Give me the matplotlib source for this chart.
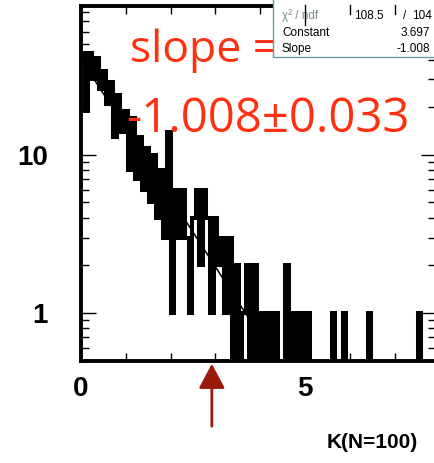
import numpy as np
import matplotlib
matplotlib.use("Agg")
import matplotlib.pyplot as plt
from matplotlib.ticker import MultipleLocator, LogLocator, NullFormatter
from matplotlib.patches import Rectangle

# histogram of K (N=100), bin width 0.08
bin_width = 0.08
counts = [44, 19, 44, 30, 41, 26, 34, 21, 29, 13,
          24, 14, 19, 8, 17, 7, 13, 6, 11, 5,
          10, 4, 8, 3, 14, 1, 6, 3, 6, 3,
          1, 4, 6, 2, 6, 4, 1, 4, 2, 3,
          1, 3, 0, 2, 0, 1, 2, 0, 2, 0,
          1, 0, 1, 0, 1, 0, 0, 2, 0, 1,
          0, 1, 0, 1, 0, 0, 0, 0, 0, 0,
          1, 0, 0, 1, 0, 0, 0, 0, 0, 0,
          1, 0, 0, 0, 0, 0, 0, 0, 0, 0,
          0, 0, 0, 0, 1, 0, 0, 0, 0]

# expo fit parameters from the stats box
fit_const = 3.697
fit_slope = -1.008
chi2, ndf = 108.5, 104
slope_err = 0.033
arrow_k = 2.92

fig = plt.figure(figsize=(4.34, 4.63), dpi=100)
ax = fig.add_axes([81/434, 1 - 361/463, 355/434, 355.5/463])

edges = np.arange(len(counts) + 1) * bin_width
vals = np.array(counts, dtype=float)
vals = np.where(vals > 0, vals, 1e-3)
ax.step(edges, np.append(vals, vals[-1]), where='post', color='black',
        lw=2.9, solid_joinstyle='miter', solid_capstyle='butt', zorder=3)

kf = np.linspace(0, 8, 200)
ax.plot(kf, np.exp(fit_const + fit_slope * kf), color='black', lw=1.1, zorder=4)

ax.set_yscale('log')
ax.set_xlim(0, 355 / 44.8)
ax.set_ylim(0.497, 88)

ax.xaxis.set_major_locator(MultipleLocator(5))
ax.xaxis.set_minor_locator(MultipleLocator(1))
ax.yaxis.set_major_locator(LogLocator(base=10))
ax.yaxis.set_minor_locator(LogLocator(base=10, subs=np.arange(2, 10)))
ax.yaxis.set_minor_formatter(NullFormatter())
ax.set_yticks([1, 10])
ax.set_yticklabels(['1', '10'])
ax.set_xticks([0, 5])
ax.set_xticklabels(['0', '5'])

for t in ax.get_xticklabels() + ax.get_yticklabels():
    t.set_fontfamily('Liberation Sans')
    t.set_fontweight('bold')
    t.set_fontsize(20)

ax.tick_params(which='both', direction='in', top=True, right=True, color='black')
ax.tick_params(which='major', length=10.5, width=1.0)
ax.tick_params(which='minor', length=5.5, width=1.0)
ax.tick_params(axis='x', which='major', pad=11)
ax.tick_params(axis='y', which='major', pad=24)

for side in ['left', 'bottom', 'top', 'right']:
    ax.spines[side].set_linewidth(2.8)
    ax.spines[side].set_color('black')

# stats box (figure pixel coordinates)
box = Rectangle((273, 463 - 57), 200, 60, transform=None, facecolor='white',
                edgecolor='#6f9a9a', lw=1.0, zorder=5)
fig.patches.append(box)

sfont = dict(family='Liberation Sans', size=8.5, va='center', zorder=6)
fig.text(282/434, 1 - 16/463, '\u03c7\u00b2 / ndf', color='#7a8a90', **sfont)
fig.text(384/434, 1 - 16/463, f'{chi2:.1f}', ha='right', color='black', **sfont)
fig.text(405/434, 1 - 16/463, '/', ha='center', color='black', **sfont)
fig.text(412/434, 1 - 16/463, f'{ndf}', ha='left', color='black', **sfont)
fig.text(282/434, 1 - 32.5/463, 'Constant', color='black', **sfont)
fig.text(430/434, 1 - 32.5/463, f'{fit_const:.3f}', ha='right', color='black', **sfont)
fig.text(282/434, 1 - 49/463, 'Slope', color='black', **sfont)
fig.text(430/434, 1 - 49/463, f'{fit_slope:.3f}', ha='right', color='black', **sfont)

# top ticks drawn over the box
for k in [5, 6, 7]:
    xp = (81 + 44.8 * k) / 434
    ln = 20 if k == 5 else 9
    fig.add_artist(plt.Line2D([xp, xp], [1 - 5/463, 1 - (5 + ln)/463],
                              color='black', lw=1.0, zorder=7))

red = '#ff3010'
fig.text(130/434, 1 - 62/463, 'slope =', color=red, family='Open Sans',
         size=32, va='baseline', zorder=4)
fig.text(126/434, 1 - 132/463, f'{fit_slope:.3f}\u00b1{slope_err:.3f}', color=red,
         family='Open Sans', size=34, va='baseline', zorder=4)

fig.text(327/434, 1 - 442/463, 'K(N=100)', family='Liberation Sans',
         weight='bold', size=15, va='center')

ax.annotate('', xy=(arrow_k, 0), xycoords=('data', 'axes fraction'),
            xytext=(0, -68), textcoords='offset pixels',
            arrowprops=dict(arrowstyle='-|>,head_length=0.75,head_width=0.4',
                            mutation_scale=20, color='#9a1a0c', lw=2),
            annotation_clip=False)

fig.savefig('out.png', dpi=100)
